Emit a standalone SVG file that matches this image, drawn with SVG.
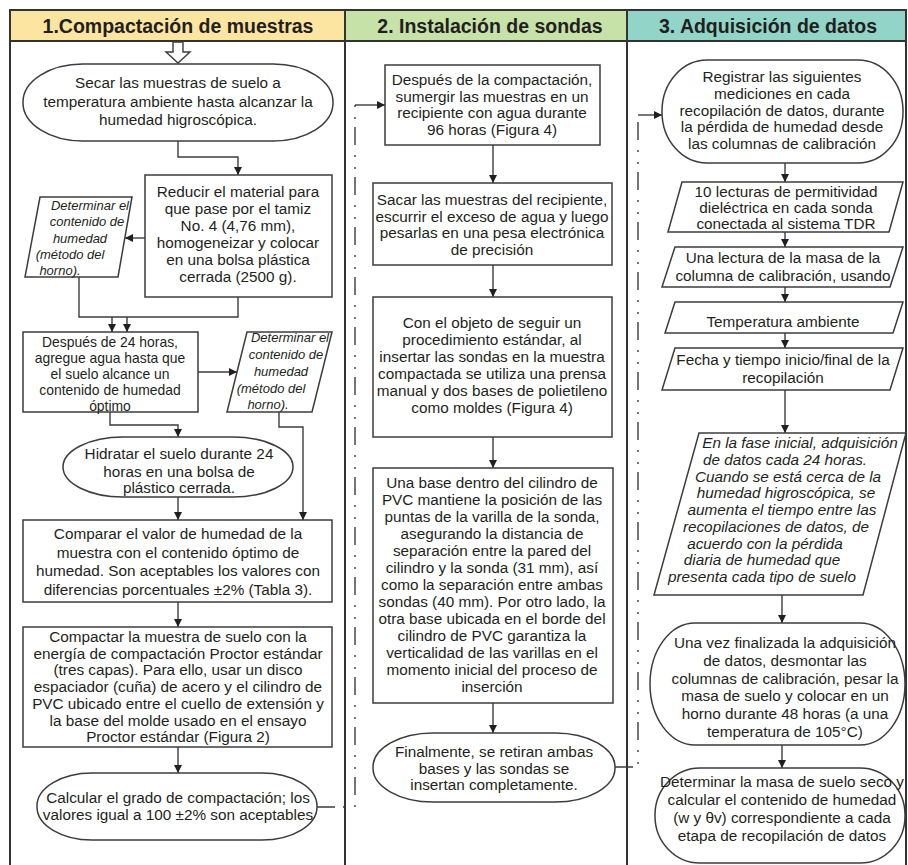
<svg xmlns="http://www.w3.org/2000/svg" width="908" height="865" viewBox="0 0 908 865">
<defs>
<style>
.t{font-family:"Liberation Sans",Arial,sans-serif;font-size:15.3px;fill:#231f20;text-anchor:middle}
.i{font-style:italic}
.s{font-size:13px}
.m{font-size:13.9px}
.h{font-family:"Liberation Sans",Arial,sans-serif;font-weight:bold;font-size:19.5px;fill:#231f20;text-anchor:middle}
.box{fill:#fff;stroke:#3c3c3c;stroke-width:1.5}
.ln{fill:none;stroke:#3c3c3c;stroke-width:1.4}
.dd{fill:none;stroke:#3c3c3c;stroke-width:1.4;stroke-dasharray:18 8 2 10 2 10}
.fr{fill:none;stroke:#333;stroke-width:2}
</style>
<marker id="ah" viewBox="0 0 10 10" refX="10" refY="5" markerWidth="8" markerHeight="8" markerUnits="userSpaceOnUse" orient="auto"><path d="M0,0 L10,5 L0,10 z" fill="#231f20"/></marker>
</defs>
<rect width="908" height="865" fill="#fff"/>

<g id="headers">
<rect x="10" y="10" width="335" height="31" fill="#fce5a1"/>
<rect x="345" y="10" width="282" height="31" fill="#c7e2a9"/>
<rect x="627" y="10" width="279" height="31" fill="#92d4c7"/>
<text class="h" x="178" y="33">1.Compactación de muestras</text>
<text class="h" x="490" y="33">2. Instalación de sondas</text>
<text class="h" x="768" y="33">3. Adquisición de datos</text>
</g>
<g id="frame">
<path class="fr" d="M10,865 V10 H906 V865 M10,41 H906 M345,10 V865 M627,10 V865"/>
</g>

<g id="connectors">
<polygon points="173,42 183,42 183,52 190,52 178,63 166,52 173,52" fill="#fff" stroke="#3c3c3c" stroke-width="1.4"/>
<path class="ln" d="M178,141 V157 H238 V175" marker-end="url(#ah)"/>
<path class="ln" d="M145,238 H125" marker-end="url(#ah)"/>
<path class="ln" d="M79,277 V317 H238 V297"/>
<path class="ln" d="M112,317 V332" marker-end="url(#ah)"/>
<path class="ln" d="M127,317 V332" marker-end="url(#ah)"/>
<path class="ln" d="M198,372 H237" marker-end="url(#ah)"/>
<path class="ln" d="M110,412 V425 H178 V437" marker-end="url(#ah)"/>
<path class="ln" d="M279,412 V427 H303 V520" marker-end="url(#ah)"/>
<path class="ln" d="M178,497 V520" marker-end="url(#ah)"/>
<path class="ln" d="M178,602 V627" marker-end="url(#ah)"/>
<path class="ln" d="M178,747 V773" marker-end="url(#ah)"/>
<path class="dd" d="M317,807 H355 V105"/>
<path class="ln" d="M355,105 H385" marker-end="url(#ah)"/>
<path class="ln" d="M493,145 V183" marker-end="url(#ah)"/>
<path class="ln" d="M493,265 V297" marker-end="url(#ah)"/>
<path class="ln" d="M493,437 V468" marker-end="url(#ah)"/>
<path class="ln" d="M493,703 V733" marker-end="url(#ah)"/>
<path class="dd" d="M615,767 H638 V115"/>
<path class="ln" d="M638,115 H662" marker-end="url(#ah)"/>
<path class="ln" d="M785,163 V182" marker-end="url(#ah)"/>
<path class="ln" d="M785,232 V247" marker-end="url(#ah)"/>
<path class="ln" d="M785,287 V302" marker-end="url(#ah)"/>
<path class="ln" d="M785,333 V348" marker-end="url(#ah)"/>
<path class="ln" d="M785,390 V433" marker-end="url(#ah)"/>
<path class="ln" d="M782,595 V623" marker-end="url(#ah)"/>
<path class="ln" d="M782,745 V768" marker-end="url(#ah)"/>
</g>

<g id="n1">
<rect class="box" x="23" y="64" width="310" height="77" rx="60" ry="38"/>
<text class="t"><tspan x="178" y="88">Secar las muestras de suelo a</tspan><tspan x="178" y="106.5">temperatura ambiente hasta alcanzar la</tspan><tspan x="178" y="125">humedad higroscópica.</tspan></text>
</g>
<g id="n2">
<rect class="box" x="145" y="175" width="187" height="122"/>
<text class="t"><tspan x="238" y="197">Reducir el material para</tspan><tspan x="238" y="214">que pase por el tamiz</tspan><tspan x="238" y="231">No. 4 (4,76 mm),</tspan><tspan x="238" y="248">homogeneizar y colocar</tspan><tspan x="238" y="265">en una bolsa plástica</tspan><tspan x="238" y="282">cerrada (2500 g).</tspan></text>
</g>
<g id="n3">
<polygon class="box" points="40,197 132,197 118,277 25,277"/>
<text class="t i s"><tspan x="90" y="209.5">Determinar el</tspan><tspan x="87" y="226">contenido de</tspan><tspan x="80" y="242.5">humedad</tspan><tspan x="70" y="259">(método del</tspan><tspan x="60" y="275">horno).</tspan></text>
</g>
<g id="n4">
<rect class="box" x="23" y="332" width="175" height="80"/>
<text class="t m"><tspan x="110" y="347">Después de 24 horas,</tspan><tspan x="110" y="363">agregue agua hasta que</tspan><tspan x="110" y="379">el suelo alcance un</tspan><tspan x="110" y="395">contenido de humedad</tspan><tspan x="110" y="411">óptimo</tspan></text>
</g>
<g id="n5">
<polygon class="box" points="247,332 332,332 312,412 227,412"/>
<text class="t i s"><tspan x="290" y="341.5">Determinar el</tspan><tspan x="286" y="359">contenido de</tspan><tspan x="281" y="376">humedad</tspan><tspan x="271" y="392.5">(método del</tspan><tspan x="268" y="409">horno).</tspan></text>
</g>
<g id="n6">
<rect class="box" x="63" y="437" width="230" height="60" rx="60" ry="30"/>
<text class="t"><tspan x="179" y="459">Hidratar el suelo durante 24</tspan><tspan x="179" y="476.5">horas en una bolsa de</tspan><tspan x="179" y="493">plástico cerrada.</tspan></text>
</g>
<g id="n7">
<rect class="box" x="23" y="520" width="309" height="82"/>
<text class="t"><tspan x="178" y="539">Comparar el valor de humedad de la</tspan><tspan x="178" y="557.5">muestra con el contenido óptimo de</tspan><tspan x="178" y="576">humedad. Son aceptables los valores con</tspan><tspan x="178" y="594.5">diferencias porcentuales ±2% (Tabla 3).</tspan></text>
</g>
<g id="n8">
<rect class="box" x="23" y="627" width="309" height="120"/>
<text class="t"><tspan x="178" y="642">Compactar la muestra de suelo con la</tspan><tspan x="178" y="658.7">energía de compactación Proctor estándar</tspan><tspan x="178" y="675.4">(tres capas). Para ello, usar un disco</tspan><tspan x="178" y="692.1">espaciador (cuña) de acero y el cilindro de</tspan><tspan x="178" y="708.8">PVC ubicado entre el cuello de extensión y</tspan><tspan x="178" y="725.5">la base del molde usado en el ensayo</tspan><tspan x="178" y="742.2">Proctor estándar (Figura 2)</tspan></text>
</g>
<g id="n9">
<rect class="box" x="37" y="773" width="280" height="67" rx="55" ry="33"/>
<text class="t"><tspan x="178" y="802.5">Calcular el grado de compactación; los</tspan><tspan x="178" y="819.5">valores igual a 100 ±2% son aceptables</tspan></text>
</g>

<g id="n10">
<rect class="box" x="385" y="65" width="215" height="80"/>
<text class="t"><tspan x="492" y="85">Después de la compactación,</tspan><tspan x="492" y="101.5">sumergir las muestras en un</tspan><tspan x="492" y="118">recipiente con agua durante</tspan><tspan x="492" y="134.5">96 horas (Figura 4)</tspan></text>
</g>
<g id="n11">
<rect class="box" x="373" y="183" width="239" height="82"/>
<text class="t"><tspan x="492" y="205">Sacar las muestras del recipiente,</tspan><tspan x="492" y="221.5">escurrir el exceso de agua y luego</tspan><tspan x="492" y="238">pesarlas en una pesa electrónica</tspan><tspan x="492" y="254.5">de precisión</tspan></text>
</g>
<g id="n12">
<rect class="box" x="373" y="297" width="239" height="140"/>
<text class="t"><tspan x="492" y="328">Con el objeto de seguir un</tspan><tspan x="492" y="345">procedimiento estándar, al</tspan><tspan x="492" y="362">insertar las sondas en la muestra</tspan><tspan x="492" y="379">compactada se utiliza una prensa</tspan><tspan x="492" y="396">manual y dos bases de polietileno</tspan><tspan x="492" y="413">como moldes (Figura 4)</tspan></text>
</g>
<g id="n13">
<rect class="box" x="373" y="468" width="240" height="235"/>
<text class="t"><tspan x="492" y="488">Una base dentro del cilindro de</tspan><tspan x="492" y="505">PVC mantiene la posición de las</tspan><tspan x="492" y="522">puntas de la varilla de la sonda,</tspan><tspan x="492" y="539">asegurando la distancia de</tspan><tspan x="492" y="556">separación entre la pared del</tspan><tspan x="492" y="573">cilindro y la sonda (31 mm), así</tspan><tspan x="492" y="590">como la separación entre ambas</tspan><tspan x="492" y="607">sondas (40 mm). Por otro lado, la</tspan><tspan x="492" y="624">otra base ubicada en el borde del</tspan><tspan x="492" y="641">cilindro de PVC garantiza la</tspan><tspan x="492" y="658">verticalidad de las varillas en el</tspan><tspan x="492" y="675">momento inicial del proceso de</tspan><tspan x="492" y="692">inserción</tspan></text>
</g>
<g id="n14">
<rect class="box" x="373" y="733" width="242" height="69" rx="60" ry="34"/>
<text class="t"><tspan x="494" y="757">Finalmente, se retiran ambas</tspan><tspan x="494" y="773.5">bases y las sondas se</tspan><tspan x="494" y="790">insertan completamente.</tspan></text>
</g>

<g id="n15">
<rect class="box" x="662" y="60" width="241" height="103" rx="45" ry="51"/>
<text class="t"><tspan x="782" y="82">Registrar las siguientes</tspan><tspan x="782" y="98.8">mediciones en cada</tspan><tspan x="782" y="115.6">recopilación de datos, durante</tspan><tspan x="782" y="132.4">la pérdida de humedad desde</tspan><tspan x="782" y="149.2">las columnas de calibración</tspan></text>
</g>
<g id="n16">
<polygon class="box" points="682,182 903,182 889,232 668,232"/>
<text class="t"><tspan x="786" y="197">10 lecturas de permitividad</tspan><tspan x="786" y="213">dieléctrica en cada sonda</tspan><tspan x="786" y="229">conectada al sistema TDR</tspan></text>
</g>
<g id="n17">
<polygon class="box" points="675,247 903,247 890,287 662,287"/>
<text class="t"><tspan x="783" y="263">Una lectura de la masa de la</tspan><tspan x="783" y="281">columna de calibración, usando</tspan></text>
</g>
<g id="n18">
<polygon class="box" points="675,302 903,302 893,333 665,333"/>
<text class="t"><tspan x="783" y="327">Temperatura ambiente</tspan></text>
</g>
<g id="n19">
<polygon class="box" points="675,348 903,348 890,390 662,390"/>
<text class="t"><tspan x="783" y="365">Fecha y tiempo inicio/final de la</tspan><tspan x="783" y="383">recopilación</tspan></text>
</g>
<g id="n20">
<polygon class="box" points="699,433 906,433 863,595 654,595"/>
<text class="t i"><tspan x="800" y="448">En la fase inicial, adquisición</tspan><tspan x="785" y="465">de datos cada 24 horas.</tspan><tspan x="788" y="481.5">Cuando se está cerca de la</tspan><tspan x="786" y="498">humedad higroscópica, se</tspan><tspan x="782" y="515">aumenta el tiempo entre las</tspan><tspan x="776" y="532">recopilaciones de datos, de</tspan><tspan x="765" y="548.5">acuerdo con la pérdida</tspan><tspan x="762" y="565">diaria de humedad que</tspan><tspan x="762" y="582">presenta cada tipo de suelo</tspan></text>
</g>
<g id="n21">
<rect class="box" x="650" y="623" width="255" height="122" rx="45" ry="61"/>
<text class="t"><tspan x="785" y="648">Una vez finalizada la adquisición</tspan><tspan x="785" y="665.8">de datos, desmontar las</tspan><tspan x="785" y="683.6">columnas de calibración, pesar la</tspan><tspan x="785" y="701.4">masa de suelo y colocar en un</tspan><tspan x="785" y="719.2">horno durante 48 horas (a una</tspan><tspan x="785" y="737">temperatura de 105°C)</tspan></text>
</g>
<g id="n22">
<rect class="box" x="655" y="768" width="250" height="95" rx="45" ry="47"/>
<text class="t"><tspan x="782" y="787">Determinar la masa de suelo seco y</tspan><tspan x="782" y="805">calcular el contenido de humedad</tspan><tspan x="782" y="823">(w y θv) correspondiente a cada</tspan><tspan x="782" y="841">etapa de recopilación de datos</tspan></text>
</g>
</svg>
